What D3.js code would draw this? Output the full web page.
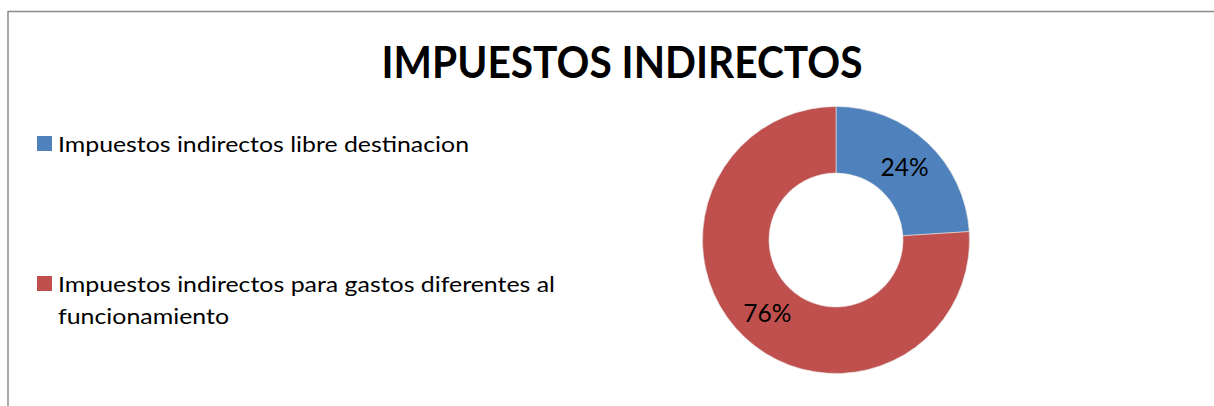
<!DOCTYPE html>
<html lang="es">
<head>
  <meta charset="UTF-8" />
  <title>Impuestos indirectos</title>
  <style>
    body { margin: 0; background: #fff; }
    svg { display: block; font-family: Lato, "Open Sans", sans-serif; }
  </style>
</head>
<body>
  <div id="chart"></div>
  <script src="https://cdn.jsdelivr.net/npm/d3@7"></script>
  <script>
    const title = "IMPUESTOS INDIRECTOS";
    const categories = [
      "Impuestos indirectos libre destinacion",
      "Impuestos indirectos para gastos diferentes al funcionamiento"
    ];
    const values = [24, 76];
    const colors = ["#4F81BD", "#C0504D"];
    // legend lines as they wrap in the original, with their widths there
    const legendLines = [
      ["Impuestos indirectos libre destinacion"],
      ["Impuestos indirectos para gastos diferentes al", "funcionamiento"]
    ];
    const legendWidths = [[411], [497, 171]];

    const W = 1214, H = 406;
    const cx = 836, cy = 240, outerR = 133.5, innerR = 67;

    const svg = d3.select("#chart").append("svg")
      .attr("width", W).attr("height", H);

    // chart frame
    svg.append("rect")
      .attr("x", 8).attr("y", 11.5)
      .attr("width", 1400).attr("height", 600)
      .attr("fill", "none")
      .attr("stroke", "#8c8c8c")
      .attr("stroke-width", 1.5);

    svg.append("text")
      .attr("x", 622).attr("y", 78)
      .attr("text-anchor", "middle")
      .attr("font-size", 44)
      .attr("font-weight", "bold")
      .attr("textLength", 481)
      .attr("lengthAdjust", "spacingAndGlyphs")
      .text(title);

    const data = categories.map((c, i) => ({
      name: c, value: values[i], color: colors[i],
      lines: legendLines[i], widths: legendWidths[i]
    }));

    const pie = d3.pie().sort(null).value(d => d.value);
    const arc = d3.arc().innerRadius(innerR).outerRadius(outerR);
    const total = d3.sum(values);

    const g = svg.append("g").attr("transform", `translate(${cx},${cy})`);
    const arcs = pie(data);

    g.selectAll("path")
      .data(arcs)
      .enter().append("path")
        .attr("d", arc)
        .attr("fill", d => d.data.color)
        .attr("stroke", "#e8e8e8")
        .attr("stroke-width", 0.6);

    g.selectAll("text.lbl")
      .data(arcs)
      .enter().append("text")
        .attr("class", "lbl")
        .attr("transform", d => `translate(${arc.centroid(d)})`)
        .attr("text-anchor", "middle")
        .attr("dy", "0.36em")
        .attr("font-size", 24.5)
        .attr("fill", "#000")
        .text(d => Math.round(d.data.value / total * 100) + "%");

    // legend
    const legendY = d3.scalePoint().domain(categories).range([152, 292]);
    const leg = svg.selectAll("g.leg")
      .data(data)
      .enter().append("g")
        .attr("class", "leg")
        .attr("transform", d => `translate(37,${legendY(d.name)})`);

    leg.append("rect")
      .attr("x", 0).attr("y", -16)
      .attr("width", 15).attr("height", 15)
      .attr("fill", d => d.color);

    leg.each(function(d) {
      const grp = d3.select(this);
      d.lines.forEach((line, j) => {
        grp.append("text")
          .attr("x", 21)
          .attr("y", j * 32)
          .attr("font-size", 22)
          .attr("fill", "#000")
          .attr("textLength", d.widths[j])
          .attr("lengthAdjust", "spacingAndGlyphs")
          .text(line);
      });
    });
  </script>
</body>
</html>
